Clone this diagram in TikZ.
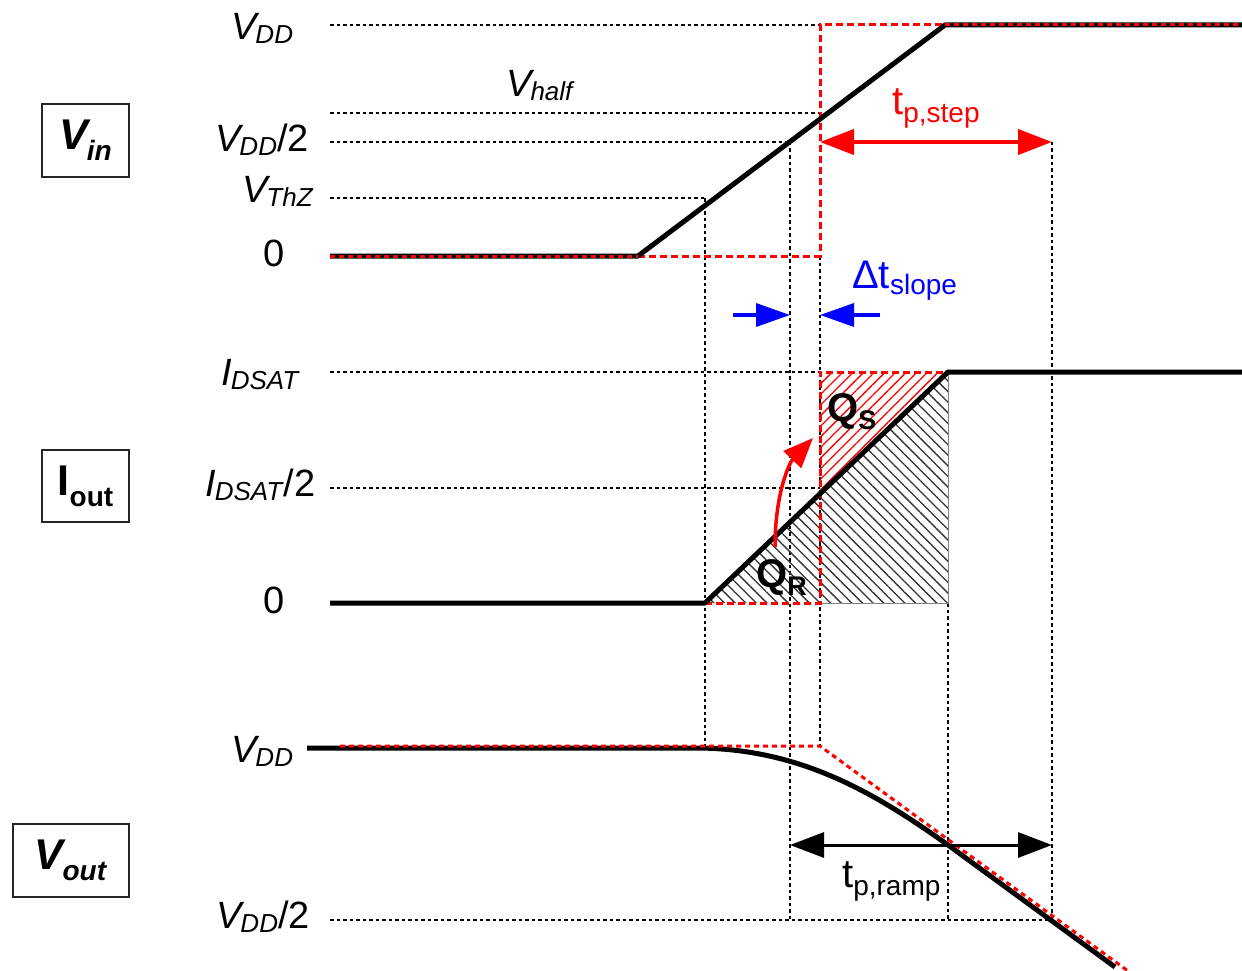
\documentclass[tikz,border=0pt]{standalone}
\usepackage{fontspec}
\setmainfont{Liberation Sans}
\usetikzlibrary{arrows.meta,patterns.meta}
\newcommand{\lowtxt}[3]{\raisebox{-#1pt}{\fontsize{#2}{#2}\selectfont #3}}
\begin{document}
\begin{tikzpicture}[x=1pt,y=-1pt,
  lab/.style={font=\fontsize{38}{40}\selectfont, inner sep=0pt, anchor=base west},
  guide/.style={line width=1.5pt, dash pattern=on 3.5pt off 3pt},
  wave/.style={line width=5pt, line join=round},
  redover/.style={red, line width=3pt, dash pattern=on 5pt off 4pt},
  reddash/.style={red, line width=3pt, dash pattern=on 7pt off 4pt},
  boxlab/.style={draw=black!85, line width=2pt, inner sep=0pt, font=\fontsize{43}{44}\selectfont\bfseries},
  qlab/.style={font=\fontsize{40}{40}\selectfont\bfseries, inner sep=0pt, anchor=base west},
  tlab/.style={font=\fontsize{40}{42}\selectfont, inner sep=0pt, anchor=base west}]
\useasboundingbox (0,0) rectangle (1242,971);

% ---------- guide lines ----------
\draw[guide] (330,25) -- (820,25);
\draw[guide] (330,113) -- (820,113);
\draw[guide] (330,142) -- (790,142);
\draw[guide] (330,198) -- (705,198);
\draw[guide] (330,372) -- (820,372);
\draw[guide] (330,488) -- (820,488);
\draw[guide] (330,920) -- (1052,920);
\draw[guide] (705,198) -- (705,748);
\draw[guide] (790,142) -- (790,920);
\draw[guide] (820,256) -- (820,746);
\draw[guide] (948,603) -- (948,920);
\draw[guide] (1052,142) -- (1052,920);

% ---------- Vin ----------
\coordinate (a0) at (330,256);
\coordinate (a1) at (638,256);
\coordinate (a2) at (945,25);
\coordinate (a3) at (1242,25);
\coordinate (s0) at (820,256);
\coordinate (s1) at (820,25);
\draw[reddash] (a1) -- (s0) -- (s1) -- (a2);
\draw[wave] (a0) -- (a1) -- (a2) -- (a3);
\draw[redover] (a0) -- (a1);
\draw[redover] (a2) -- (a3);

% ---------- Iout ----------
\coordinate (b0) at (330,603);
\coordinate (b1) at (705,603);
\coordinate (b2) at (948,372);
\coordinate (b3) at (1242,372);
\coordinate (c0) at (820,603);
\coordinate (c1) at (820,372);
\coordinate (c2) at (820,494);
\coordinate (c3) at (948,603);
\fill[pattern={Lines[angle=-45,distance=7.5pt,line width=1.3pt]}, pattern color=black!80]
  (b1) -- (b2) -- (c3) -- cycle;
\fill[pattern={Lines[angle=45,distance=7.5pt,line width=1.3pt]}, pattern color=red]
  (c1) -- (b2) -- (c2) -- cycle;
\draw[black!50, line width=1pt] (c0) -- (c3) -- (b2);
\draw[reddash] (b1) -- (c0) -- (c1) -- (b2);
\draw[wave] (b0) -- (b1) -- (b2) -- (b3);

% ---------- Vout ----------
\coordinate (d0) at (307,748);
\coordinate (d1) at (695,748);
\coordinate (d2) at (948,845);
\coordinate (d3) at (1115,967);
\draw[wave] (d0) -- (d1) .. controls (800,748) and (875,793) .. (d2) -- (d3);
\coordinate (e0) at (340,746);
\coordinate (e1) at (820,746);
\coordinate (e2) at (1128,971);
\draw[redover] (e0) -- (e1) -- (e2);

% ---------- arrows ----------
\coordinate (ps0) at (820,142);
\coordinate (ps1) at (1052,142);
\draw[red, line width=4pt, {Triangle[length=34pt,width=25pt]}-{Triangle[length=34pt,width=25pt]}] (ps0) -- (ps1);
\coordinate (pr0) at (790,845);
\coordinate (pr1) at (1052,845);
\draw[black, line width=3pt, {Triangle[length=34pt,width=25pt]}-{Triangle[length=34pt,width=25pt]}] (pr0) -- (pr1);
\coordinate (bl0) at (733,315);
\coordinate (bl1) at (790,315);
\coordinate (br0) at (880,315);
\coordinate (br1) at (820,315);
\draw[blue, line width=3.5pt, -{Triangle[length=34pt,width=23pt]}] (bl0) -- (bl1);
\draw[blue, line width=3.5pt, -{Triangle[length=34pt,width=23pt]}] (br0) -- (br1);
\coordinate (q0) at (775,547);
\coordinate (q1) at (813,438);
\draw[red, line width=3.5pt, -{Triangle[length=30pt,width=24pt]}] (q0) .. controls (775,492) and (790,462) .. (q1);

% ---------- axis labels ----------
\node[lab] (l1) at (231,40) {\textit{V}\kern-4pt\lowtxt{4}{26}{\textit{DD}}};
\node[lab] (l2) at (506,97) {\textit{V}\kern-4pt\lowtxt{4}{26}{\textit{half}}};
\node[lab] (l3) at (215,151) {\textit{V}\kern-4pt\lowtxt{4}{26}{\textit{DD}}/2};
\node[lab] (l4) at (242,202) {\textit{V}\kern-4pt\lowtxt{4}{26}{\textit{ThZ}}};
\node[lab] (l5) at (263,266) {0};
\node[lab] (l6) at (221,385) {\textit{I}\kern-1pt\lowtxt{4}{26}{\textit{DSAT}}};
\node[lab] (l7) at (205,496) {\textit{I}\kern-1pt\lowtxt{4}{26}{\textit{DSAT}}/2};
\node[lab] (l8) at (263,613) {0};
\node[lab] (l9) at (231,762) {\textit{V}\kern-4pt\lowtxt{4}{26}{\textit{DD}}};
\node[lab] (l10) at (216,928) {\textit{V}\kern-4pt\lowtxt{4}{26}{\textit{DD}}/2};

% ---------- boxes ----------
\node[boxlab, minimum width=87pt, minimum height=73pt] (bxin) at (85.5,140.5)
  {\textit{V}\kern-4pt\lowtxt{11}{28}{\textit{in}}};
\node[boxlab, minimum width=87pt, minimum height=72pt] (bxio) at (85.5,486)
  {I\lowtxt{11}{28}{out}};
\node[boxlab, minimum width=116pt, minimum height=73pt] (bxvo) at (71,860.5)
  {\textit{V}\kern-4pt\lowtxt{11}{28}{\textit{out}}};

% ---------- annotation labels ----------
\node[tlab, text=red] (tstep) at (892,115) {t\lowtxt{8}{28}{p,step}};
\node[tlab, text=blue] (tslope) at (852,288) {Δt\lowtxt{6}{28}{slope}};
\node[tlab] (tramp) at (842,887) {t\lowtxt{8}{28}{p,ramp}};
\node[qlab] (qs) at (827,421) {Q\lowtxt{8}{27}{S}};
\node[qlab] (qr) at (756,587) {Q\lowtxt{8}{27}{R}};
\end{tikzpicture}
\end{document}
